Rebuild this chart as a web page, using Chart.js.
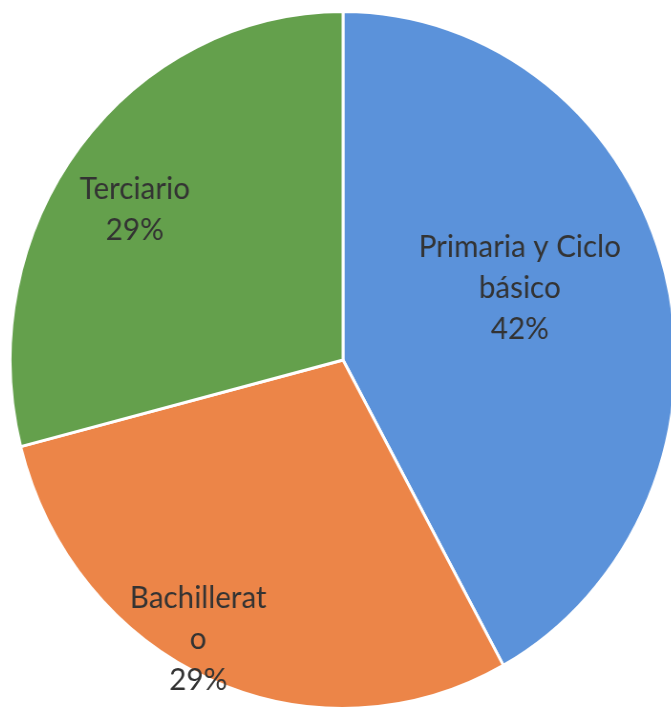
<!DOCTYPE html>
<html>
<head>
<meta charset="utf-8">
<script src="https://cdn.jsdelivr.net/npm/chart.js@4"></script>
<style>
  html, body { margin: 0; padding: 0; background: #fff; overflow: hidden; }
  body { width: 671px; height: 707px; position: relative; }
  #wrap {
    position: absolute; left: -7px; top: 10px;
    width: 700px; height: 700px;
    transform: scaleX(0.955); transform-origin: 350px 350px;
  }
</style>
</head>
<body>
<div id="wrap"><canvas id="pieChart" width="700" height="700"></canvas></div>
<script>
// category names, wrapped the way the labels appear in the picture
const categories = [['Primaria y Ciclo', 'básico'], ['Bachillerat', 'o'], ['Terciario']];
const shares = [42, 29, 29];
const sliceColors = ['#5b92da', '#ec8548', '#64a04c'];

// where each label sits inside its slice
const labelRadius = [0.57, 0.91, 0.76];
const labelAngleShift = [-0.12, 0.09, -0.056];

const sliceLabels = {
    id: 'sliceLabels',
    afterDatasetsDraw(chart) {
        const ctx = chart.ctx;
        const meta = chart.getDatasetMeta(0);
        const total = shares.reduce((a, b) => a + b, 0);
        ctx.save();
        ctx.font = '31px Lato';
        ctx.fillStyle = '#333333';
        ctx.textAlign = 'center';
        ctx.textBaseline = 'middle';
        meta.data.forEach(function(arc, i) {
            const mid = (arc.startAngle + arc.endAngle) / 2 + labelAngleShift[i];
            const r = arc.outerRadius * labelRadius[i];
            const lines = categories[i].concat([Math.round(shares[i] / total * 100) + '%']);
            const lh = 41;
            const x = arc.x + Math.cos(mid) * r;
            let y = arc.y + Math.sin(mid) * r - (lines.length - 1) * lh / 2;
            lines.forEach(function(t) {
                ctx.fillText(t, x, y);
                y += lh;
            });
        });
        ctx.restore();
    }
};

document.addEventListener("DOMContentLoaded", function() {
    const ctx = document.getElementById('pieChart').getContext('2d');
    new Chart(ctx, {
        type: 'pie',
        data: {
            labels: categories,
            datasets: [{
                data: shares,
                backgroundColor: sliceColors,
                borderColor: '#ffffff',
                borderWidth: 3
            }]
        },
        options: {
            responsive: false,
            animation: false,
            layout: { padding: 0 },
            plugins: {
                legend: { display: false },
                tooltip: { enabled: false }
            }
        },
        plugins: [sliceLabels]
    });
});
</script>
</body>
</html>
